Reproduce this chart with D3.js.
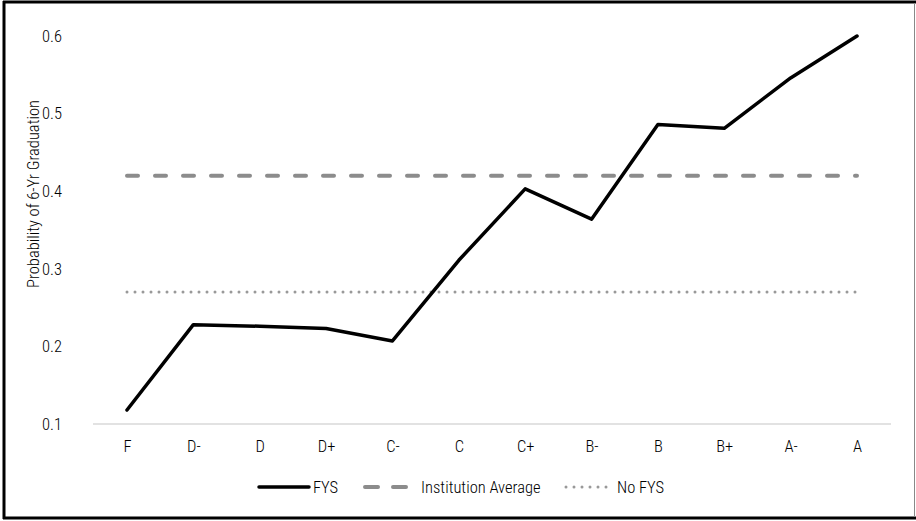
<!DOCTYPE html>
<html>
<head>
<meta charset="utf-8">
<script src="https://cdn.jsdelivr.net/npm/d3@7"></script>
<style>
  html, body { margin: 0; padding: 0; background: #fff; }
  svg text { font-family: "Liberation Sans Narrow", "Roboto Condensed", "Arial Narrow", Roboto, sans-serif; font-weight: 300; fill: #000; }
</style>
</head>
<body>
<svg id="chart" width="916" height="521"></svg>
<script>
// Grade categories along the x axis
const grades = ["F", "D-", "D", "D+", "C-", "C", "C+", "B-", "B", "B+", "A-", "A"];
// Probability of 6-year graduation for students who took the FYS
const fysValues = [0.118, 0.228, 0.226, 0.223, 0.207, 0.311, 0.403, 0.364, 0.486, 0.481, 0.546, 0.600];
// Flat reference levels
const institutionAverage = 0.420;
const noFysValue = 0.270;
// Y axis ticks
const yTicks = [0.1, 0.2, 0.3, 0.4, 0.5, 0.6];

const FS = 16.5;
const svg = d3.select("#chart");
const W = 916, H = 521;

// Frame around the chart
svg.append("rect").attr("x", 0).attr("y", 0).attr("width", W).attr("height", H).attr("fill", "#fff");
svg.append("line").attr("x1", 4).attr("x2", 4).attr("y1", 1).attr("y2", 519).attr("stroke", "#000").attr("stroke-width", 3);
svg.append("line").attr("x1", 3).attr("x2", 916).attr("y1", 2).attr("y2", 2).attr("stroke", "#000").attr("stroke-width", 3);
svg.append("line").attr("x1", 3).attr("x2", 916).attr("y1", 518).attr("y2", 518).attr("stroke", "#000").attr("stroke-width", 3);
svg.append("line").attr("x1", 914.5).attr("x2", 914.5).attr("y1", 3).attr("y2", 517).attr("stroke", "#888").attr("stroke-width", 1);

const x = d3.scalePoint().domain(grades).range([127, 857]);
const y = d3.scaleLinear().domain([0.1, 0.6]).range([424, 36]);

// Baseline
svg.append("line").attr("x1", 93).attr("x2", 891)
  .attr("y1", y(0.1)).attr("y2", y(0.1))
  .attr("stroke", "#d9d9d9").attr("stroke-width", 1.5);

// Y axis tick labels
const yAxis = d3.axisLeft(y).tickValues(yTicks).tickFormat(d3.format(".1f")).tickSize(0).tickPadding(0);
const yg = svg.append("g").attr("transform", "translate(62,0)").call(yAxis);
yg.select(".domain").remove();
yg.selectAll("text").attr("font-size", FS).attr("fill", "#000").style("font-family", null);

// X axis tick labels
const xAxis = d3.axisBottom(x).tickSize(0).tickPadding(0);
const xg = svg.append("g").attr("transform", "translate(0,440)").call(xAxis);
xg.select(".domain").remove();
xg.selectAll("text").attr("font-size", FS).attr("fill", "#000").style("font-family", null);

// Y axis title
svg.append("text")
  .attr("transform", `translate(39,194) rotate(-90)`)
  .attr("text-anchor", "middle")
  .attr("font-size", FS)
  .text("Probability of 6-Yr Graduation");

const x0 = x(grades[0]), x1 = x(grades[grades.length - 1]);

// Institution average (dashed)
svg.append("line")
  .attr("x1", x0).attr("x2", x1)
  .attr("y1", y(institutionAverage)).attr("y2", y(institutionAverage))
  .attr("stroke", "#8c8c8c").attr("stroke-width", 4)
  .attr("stroke-linecap", "round").attr("stroke-dasharray", "11,17");

// No FYS (dotted)
svg.append("line")
  .attr("x1", x0).attr("x2", x1)
  .attr("y1", y(noFysValue)).attr("y2", y(noFysValue))
  .attr("stroke", "#999").attr("stroke-width", 3)
  .attr("stroke-linecap", "round").attr("stroke-dasharray", "0,8");

// FYS line
const line = d3.line().x((d, i) => x(grades[i])).y(d => y(d));
svg.append("path")
  .datum(fysValues)
  .attr("d", line)
  .attr("fill", "none")
  .attr("stroke", "#000").attr("stroke-width", 3.5)
  .attr("stroke-linejoin", "round").attr("stroke-linecap", "round");

// Legend
const ly = 487;
const legend = svg.append("g");
legend.append("line").attr("x1", 259).attr("x2", 309).attr("y1", ly).attr("y2", ly)
  .attr("stroke", "#000").attr("stroke-width", 3.5).attr("stroke-linecap", "round");
legend.append("text").attr("x", 313).attr("y", ly + 6).attr("font-size", FS).text("FYS");

legend.append("line").attr("x1", 365).attr("x2", 406).attr("y1", ly).attr("y2", ly)
  .attr("stroke", "#8c8c8c").attr("stroke-width", 4).attr("stroke-linecap", "round")
  .attr("stroke-dasharray", "13,15");
legend.append("text").attr("x", 421).attr("y", ly + 6).attr("font-size", FS).text("Institution Average");

legend.append("line").attr("x1", 566).attr("x2", 613).attr("y1", ly).attr("y2", ly)
  .attr("stroke", "#999").attr("stroke-width", 3).attr("stroke-linecap", "round")
  .attr("stroke-dasharray", "0,8");
legend.append("text").attr("x", 617).attr("y", ly + 6).attr("font-size", FS).text("No FYS");
</script>
</body>
</html>
